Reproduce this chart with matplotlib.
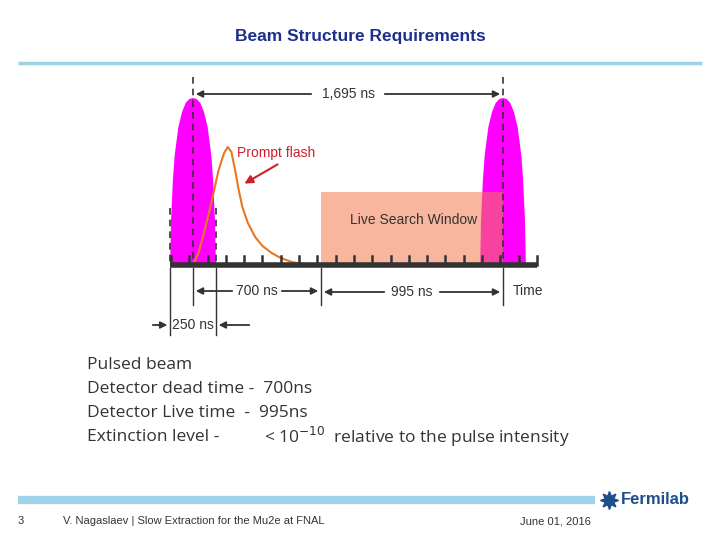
import matplotlib
matplotlib.use("Agg")
import matplotlib.pyplot as plt
import numpy as np

# ---- data (ns and relative heights in px above baseline) ----
period_ns = 1695
dead_ns = 700
live_ns = 995
pulse_width_ns = 250
pulse_t = [-125, -120, -110, -100, -80, -60, -40, -20, 0, 20, 40, 60, 80, 100, 110, 120, 125]
pulse_h = [0, 45, 85, 110, 138, 153, 162, 166, 167, 166, 162, 153, 138, 110, 85, 45, 0]
flash_t = [0, 30, 60, 100, 140, 170, 190, 210, 230, 250, 270, 300, 340, 380, 430, 480, 540, 600, 640]
flash_h = [0, 12, 32, 62, 95, 112, 118, 113, 95, 75, 58, 42, 28, 19, 12, 7, 3, 1, 0]
tick_start_ns = -120
tick_step_ns = 100
axis_range_ns = (-125, 1880)
live_height = 73
text_lines = ["Pulsed beam", "Detector dead time -  700ns", "Detector Live time  -  995ns"]

fig = plt.figure(figsize=(7.2, 5.4), dpi=100)
ax = fig.add_axes([0, 0, 1, 1])
ax.set_xlim(0, 720); ax.set_ylim(540, 0); ax.axis("off")

X0, S, BASE = 193, 310 / period_ns, 265
px = lambda t: X0 + np.asarray(t, float) * S
py = lambda h: BASE - np.asarray(h, float)

# header
ax.text(360, 36, "Beam Structure Requirements", ha="center", va="center", fontsize=12.5,
        fontweight="bold", color="#1f2f8c", family="Liberation Sans")
ax.plot([18, 702], [63, 63], color="#9fd4e8", lw=2.5, solid_capstyle="butt")

# pulses
for c in (0, period_ns):
    ax.fill(px(np.array(pulse_t) + c), py(pulse_h), color="#ff00ff", lw=0)
# live window
ax.add_patch(plt.Rectangle((px(dead_ns), BASE - live_height), px(period_ns) - px(dead_ns), live_height,
                           color="#f47a50", alpha=0.55, lw=0))
ax.text((px(dead_ns) + px(period_ns)) / 2 + 2, 220, "Live Search Window", ha="center", va="center",
        fontsize=10, color="#333333", family="Liberation Sans")
# prompt flash
ax.plot(px(flash_t), py(flash_h), color="#e87722", lw=1.5)
ax.text(237, 153, "Prompt flash", color="#d0202a", fontsize=10, va="center", family="Liberation Sans")
ax.annotate("", xy=(242, 185), xytext=(280, 163),
            arrowprops=dict(arrowstyle="-|>", color="#d0202a", lw=1.5, mutation_scale=12))

# time axis
ax.plot(px(axis_range_ns), [BASE, BASE], color="#333333", lw=4, solid_capstyle="butt")
for t in np.arange(tick_start_ns, axis_range_ns[1] + 1, tick_step_ns):
    ax.plot([px(t), px(t)], [BASE - 9, BASE], color="#333333", lw=1.8)
ax.text(513, 291, "Time", fontsize=10, va="center", color="#333333", family="Liberation Sans")

# dashed lines
for c in (0, period_ns):
    ax.plot([px(c)] * 2, [77, BASE], color="#333333", lw=1.2, ls=(0, (4, 3)))
for t in (-pulse_width_ns / 2, pulse_width_ns / 2):
    ax.plot([px(t)] * 2, [208, BASE], color="#333333", lw=1.2, ls=(0, (4, 3)))
# solid extension lines
for t, y2 in ((-pulse_width_ns / 2, 335), (0, 305), (pulse_width_ns / 2, 335),
              (dead_ns, 305), (period_ns, 305)):
    ax.plot([px(t)] * 2, [BASE + 3, y2], color="#333333", lw=1)

def dim(t1, t2, y, label, gap):
    xm = (px(t1) + px(t2)) / 2
    a = dict(arrowstyle="-|>", color="#333333", lw=1.3, mutation_scale=10)
    ax.annotate("", xy=(px(t1), y), xytext=(xm - gap, y), arrowprops=a)
    ax.annotate("", xy=(px(t2), y), xytext=(xm + gap, y), arrowprops=a)
    ax.text(xm, y, label, ha="center", va="center", fontsize=10, color="#333333", family="Liberation Sans")

dim(0, period_ns, 94, "1,695 ns", 34)
dim(0, dead_ns, 291, "700 ns", 22)
dim(dead_ns, period_ns, 292, "995 ns", 25)
a = dict(arrowstyle="-|>", color="#333333", lw=1.3, mutation_scale=10)
l, r = px(-pulse_width_ns / 2), px(pulse_width_ns / 2)
ax.annotate("", xy=(l, 325), xytext=(150, 325), arrowprops=a)
ax.annotate("", xy=(r, 325), xytext=(252, 325), arrowprops=a)
ax.text((l + r) / 2, 325, "250 ns", ha="center", va="center", fontsize=10, color="#333333",
        family="Liberation Sans")

# body text
for i, s in enumerate(text_lines):
    ax.text(87, 365 + 24 * i, s, fontsize=12.5, va="center", color="#333333", family="Open Sans")
ax.text(87, 437, "Extinction level -", fontsize=12.5, va="center", color="#333333", family="Open Sans")
ax.text(264, 437, r"< 10$^{-10}$  relative to the pulse intensity", fontsize=12.5, va="center",
        color="#333333", family="Open Sans")

# footer
ax.plot([18, 595], [500, 500], color="#9fd4e8", lw=6, solid_capstyle="butt")
ax.text(18, 521, "3", fontsize=8, va="center", color="#333333", family="Liberation Sans")
ax.text(63, 521, "V. Nagaslaev | Slow Extraction for the Mu2e at FNAL", fontsize=8, va="center",
        color="#333333", family="Liberation Sans")
ax.text(520, 521, "June 01, 2016", fontsize=8, va="center", color="#333333", family="Liberation Sans")
ax.plot([609], [500], marker=(8, 1, 0), ms=13, color="#1f4e8c")
ax.text(621, 500, "Fermilab", fontsize=12, fontweight="bold", va="center", color="#1f4e8c",
        family="Liberation Sans")

fig.savefig("out.png", dpi=100)
